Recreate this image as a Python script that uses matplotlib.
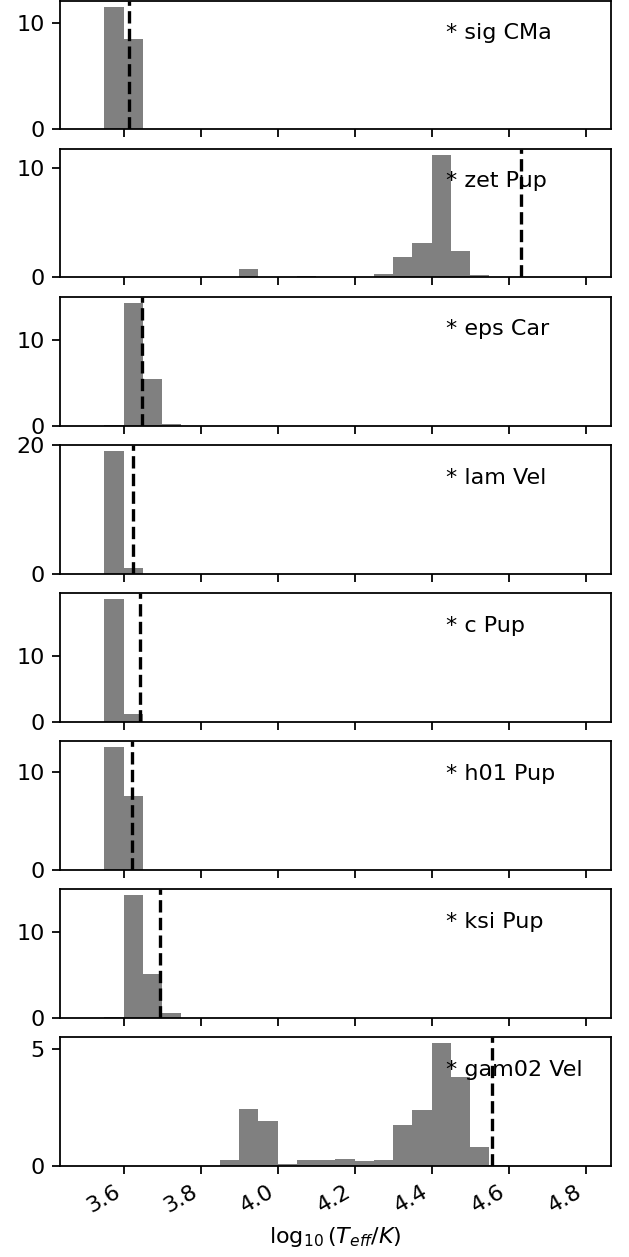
import matplotlib
matplotlib.use('Agg')
import matplotlib.pyplot as plt
import numpy as np

# bin edges in log10(Teff), width 0.05
bin_edges = np.round(np.arange(3.5, 4.801, 0.05), 2)
bin_centers = bin_edges[:-1] + 0.025

star_names = ['* sig CMa', '* zet Pup', '* eps Car', '* lam Vel',
              '* c Pup', '* h01 Pup', '* ksi Pup', '* gam02 Vel']

# literature Teff (log10) for each star, the dashed lines
logt_star = [3.6145, 4.633, 3.649, 3.625, 3.643, 3.621, 3.694, 4.556]

# density per bin (bin starts 3.50, 3.55, ... 4.75)
#                3.50 3.55   3.60   3.65  3.70  3.75 3.80 3.85  3.90  3.95  4.00  4.05  4.10  4.15  4.20  4.25  4.30  4.35  4.40  4.45  4.50  4.55  4.60 4.65 4.70 4.75
dens_sigcma  = [0, 11.5,  8.5,  0,    0,    0, 0, 0,    0,    0,    0,    0,    0,    0,    0,    0,    0,    0,    0,    0,    0,    0,    0, 0, 0, 0]
dens_zetpup  = [0, 0,     0,    0,    0,    0, 0, 0,    0.74, 0,    0,    0.09, 0,    0,    0,    0.36, 1.83, 3.12, 11.2, 2.39, 0.27, 0,    0, 0, 0, 0]
dens_epscar  = [0, 0.05,  14.3, 5.45, 0.2,  0, 0, 0,    0,    0,    0,    0,    0,    0,    0,    0,    0,    0,    0,    0,    0,    0,    0, 0, 0, 0]
dens_lamvel  = [0, 19.12, 0.88, 0,    0,    0, 0, 0,    0,    0,    0,    0,    0,    0,    0,    0,    0,    0,    0,    0,    0,    0,    0, 0, 0, 0]
dens_cpup    = [0, 18.75, 1.25, 0,    0,    0, 0, 0,    0,    0,    0,    0,    0,    0,    0,    0,    0,    0,    0,    0,    0,    0,    0, 0, 0, 0]
dens_h01pup  = [0, 12.48, 7.52, 0,    0,    0, 0, 0,    0,    0,    0,    0,    0,    0,    0,    0,    0,    0,    0,    0,    0,    0,    0, 0, 0, 0]
dens_ksipup  = [0, 0.15,  14.2, 5.03, 0.62, 0, 0, 0,    0,    0,    0,    0,    0,    0,    0,    0,    0,    0,    0,    0,    0,    0,    0, 0, 0, 0]
dens_gam02vel = [0, 0,    0,    0,    0,    0, 0, 0.26, 2.43, 1.94, 0.09, 0.26, 0.26, 0.30, 0.21, 0.26, 1.75, 2.39, 5.25, 3.80, 0.81, 0.03, 0, 0, 0, 0]

all_dens = [dens_sigcma, dens_zetpup, dens_epscar, dens_lamvel,
            dens_cpup, dens_h01pup, dens_ksipup, dens_gam02vel]

fig, axes = plt.subplots(8, 1, sharex=True, figsize=(629/160, 1257/160), dpi=160)

for ax, name, dens, logt in zip(axes, star_names, all_dens, logt_star):
    ax.hist(bin_centers, bins=bin_edges, weights=dens, color='grey')
    ax.axvline(logt, color='k', ls='--')
    ax.text(0.7, 0.7, name, transform=ax.transAxes)

axes[-1].set_xlabel(r'$\log_{10}(T_{eff}/K)$')
fig.autofmt_xdate()
fig.subplots_adjust(left=0.0954, right=0.971, bottom=0.0724, top=0.9995, hspace=0.15)

plt.savefig('out.png', dpi=160)
